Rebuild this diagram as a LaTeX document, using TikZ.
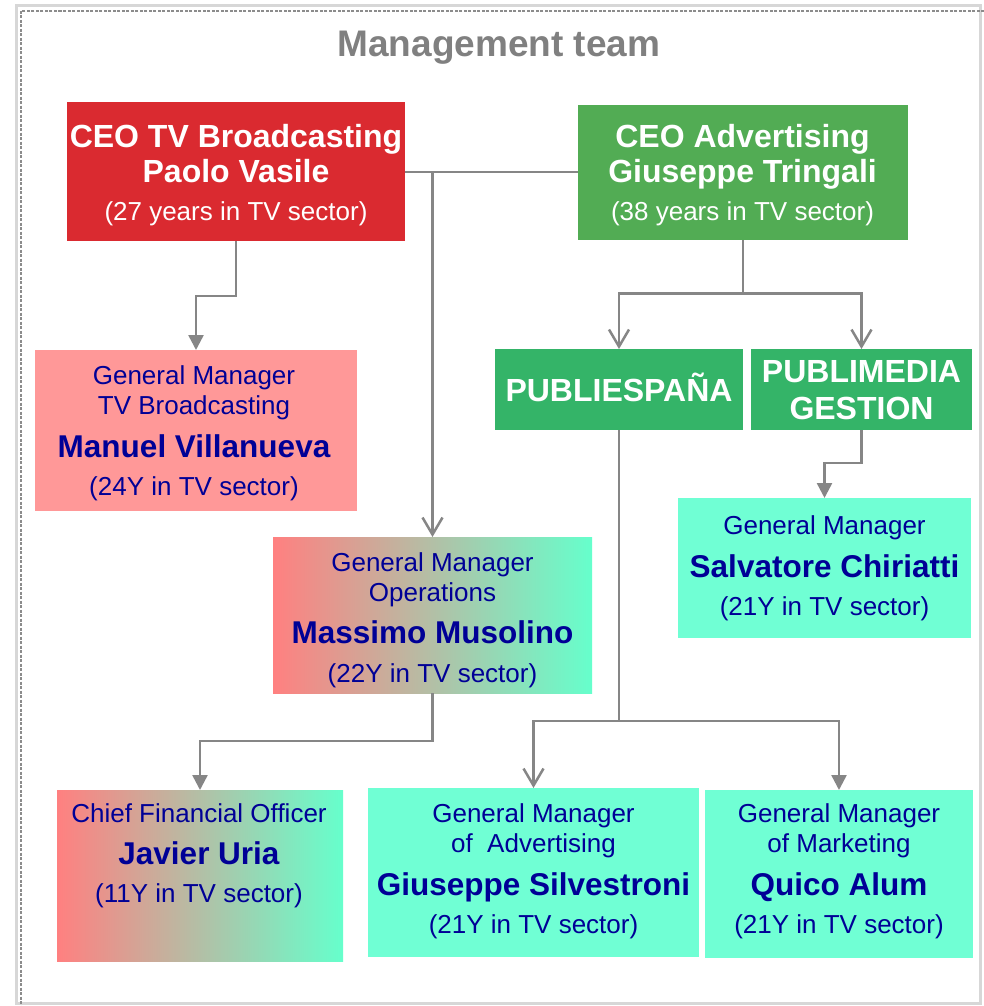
\documentclass[tikz,border=0pt]{standalone}
\usepackage{fontspec}
\setmainfont{Liberation Sans}
\usetikzlibrary{arrows.meta}
\definecolor{ceored}{RGB}{218,42,48}
\definecolor{ceogreen}{RGB}{82,172,84}
\definecolor{pubgreen}{RGB}{52,180,104}
\definecolor{gmpink}{RGB}{255,152,152}
\definecolor{aqua}{RGB}{112,255,212}
\definecolor{gradpink}{RGB}{255,128,128}
\definecolor{gradaqua}{RGB}{102,255,204}
\definecolor{navytext}{RGB}{0,0,150}
\definecolor{conngray}{RGB}{134,134,134}
\definecolor{titlegray}{RGB}{128,128,128}
\definecolor{framegray}{RGB}{215,215,215}
\definecolor{dashgray}{RGB}{140,140,140}
\newcommand\pname[1]{{\bfseries\fontsize{31.5}{30}\selectfont #1}}
\newcommand\psub[1]{{\mdseries\fontsize{26}{30}\selectfont #1}}
\begin{document}
\begin{tikzpicture}[x=1pt,y=-1pt,
  box/.style={rectangle, inner sep=0pt, outer sep=0pt, draw=none},
  grad/.style={box, left color=gradpink, right color=gradaqua},
  txt/.style={inner sep=0pt, outer sep=0pt, anchor=north, align=center, text=navytext, font=\fontsize{26}{30}\selectfont},
  wtxt/.style={inner sep=0pt, outer sep=0pt, anchor=north, align=center, text=white, font=\bfseries\fontsize{32}{35}\selectfont},
  conn/.style={draw=conngray, line width=2.5pt},
  tri/.style={-{Triangle[width=15pt,length=15pt]}},
  barb/.style={-{Straight Barb[width=20pt,length=17pt]}},
]
\useasboundingbox (0,0) rectangle (984,1006);
\fill[white] (0,0) rectangle (984,1006);
% frame
\draw[framegray, line width=3pt] (16,6) rectangle (980,1003);
\draw[dashgray, line width=1.5pt, dash pattern=on 3pt off 1.5pt] (984,11) -- (21,11) -- (21,1006);

% title
\node[inner sep=0pt, anchor=base, text=titlegray, font=\bfseries\fontsize{37}{40}\selectfont] (title) at (499,57) {Management team};

% boxes
\node[box, fill=ceored, minimum width=338pt, minimum height=139pt] (ceotv) at (236,171.5) {};
\node[box, fill=ceogreen, minimum width=330pt, minimum height=135pt] (ceoadv) at (743,172.5) {};
\node[box, fill=gmpink, minimum width=322pt, minimum height=161pt] (gmtv) at (196,430.5) {};
\node[grad, minimum width=319pt, minimum height=156pt] (gmops) at (432.5,615) {};
\node[grad, minimum width=286pt, minimum height=171pt] (cfo) at (200,875.5) {};
\node[box, fill=pubgreen, minimum width=248pt, minimum height=81pt] (pubesp) at (619,389.5) {};
\node[box, fill=pubgreen, minimum width=221pt, minimum height=81pt] (pubmed) at (861.5,389.5) {};
\node[box, fill=aqua, minimum width=293pt, minimum height=140pt] (gmsal) at (824.5,568) {};
\node[box, fill=aqua, minimum width=331pt, minimum height=169pt] (gmadv) at (533.5,872.5) {};
\node[box, fill=aqua, minimum width=268pt, minimum height=168pt] (gmmkt) at (839,874) {};

% texts
\node[wtxt] (ceotv-t) at (236,124.6) {CEO TV Broadcasting\\Paolo Vasile\\[3pt]\psub{(27 years in TV sector)}};
\node[wtxt] (ceoadv-t) at (742.5,124.6) {CEO Advertising\\Giuseppe Tringali\\[3pt]\psub{(38 years in TV sector)}};
\node[txt] (gmtv-t) at (194,366) {General Manager\\TV Broadcasting\\[13pt]\pname{Manuel Villanueva}\\[8pt](24Y in TV sector)};
\node[txt] (gmops-t) at (432.5,553) {General Manager\\Operations\\[12pt]\pname{Massimo Musolino}\\[9pt](22Y in TV sector)};
\node[txt] (cfo-t) at (199,804) {Chief Financial Officer\\[12pt]\pname{Javier Uria}\\[8pt](11Y in TV sector)};
\node[inner sep=0pt, anchor=base, text=white, font=\bfseries\fontsize{32}{35}\selectfont] (pubesp-t) at (619,401.5) {PUBLIESPAÑA};
\node[inner sep=0pt, outer sep=0pt, anchor=north, align=center, text=white, font=\bfseries\fontsize{32}{37}\selectfont] (pubmed-t) at (861.5,360) {PUBLIMEDIA\\GESTION};
\node[txt] (gmsal-t) at (824.5,516) {General Manager\\[13pt]\pname{Salvatore Chiriatti}\\[8pt](21Y in TV sector)};
\node[txt] (gmadv-t) at (533.5,804) {General Manager\\of\ \ Advertising\\[13pt]\pname{Giuseppe Silvestroni}\\[8pt](21Y in TV sector)};
\node[txt] (gmmkt-t) at (839,804) {General Manager\\of Marketing\\[13pt]\pname{Quico Alum}\\[8pt](21Y in TV sector)};

% connectors
\coordinate (j1) at (432.5,172);
\draw[conn] (ceotv.east |- j1) -- (ceoadv.west |- j1);
\draw[conn, barb] (j1) -- (gmops.north);
\draw[conn, tri] (ceotv.south) -- ++(0,55) -| (gmtv.north);
\draw[conn, barb] (ceoadv.south) -- ++(0,53.5) -| (pubesp.north);
\draw[conn, barb] (ceoadv.south) -- ++(0,53.5) -| (pubmed.north);
\draw[conn, tri] (pubmed.south) -- ++(0,33) -| (gmsal.north);
\draw[conn, barb] (pubesp.south) -- ++(0,291) -| (gmadv.north);
\draw[conn, tri] (pubesp.south) -- ++(0,291) -| (gmmkt.north);
\draw[conn, tri] (gmops.south) -- ++(0,48) -| (cfo.north);
\end{tikzpicture}
\end{document}
